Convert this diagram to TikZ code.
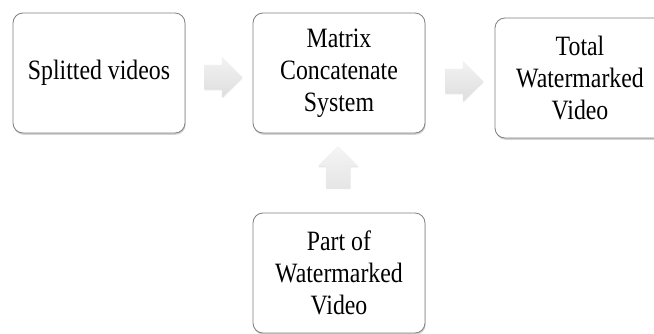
\documentclass[tikz,border=0pt]{standalone}
\usepackage{fontspec}
\setmainfont{Liberation Serif}[FakeStretch=0.85]
\usetikzlibrary{shapes.arrows, shadows}
\definecolor{boxLine}{RGB}{128,128,128}
\tikzstyle{stage} = [rectangle, rounded corners=10pt, draw=boxLine, line width=0.8pt,
fill=white, minimum width=172pt, minimum height=120pt, align=center,
font=\fontsize{28}{32}\selectfont,
drop shadow={shadow xshift=0.6pt, shadow yshift=-1.8pt, opacity=0.35}]
\tikzstyle{flow}  = [single arrow, single arrow head extend=8pt, draw=none,
top color=gray!10, bottom color=gray!26, minimum height=38pt,
inner xsep=0pt, inner ysep=12pt,
drop shadow={shadow xshift=0.5pt, shadow yshift=-1.2pt, opacity=0.2}]

\begin{document}
\begin{tikzpicture}[x=1pt, y=-1pt]
      \useasboundingbox (0,0) rectangle (654,334);
      \begin{scope}
      \clip (0,0) rectangle (654,334);
      \node(Sv)  [stage] at (99,73)  {Splitted videos};
      \node(Mcs) [stage] at (339,73) {Matrix\\Concatenate\\System};
      \node(Twv) [stage, minimum width=170pt] at (580,78) {Total\\Watermarked\\Video};
      \node(Pwv) [stage] at (339,273) {Part of\\Watermarked\\Video};
      \end{scope}

      \node(A1) [flow] at (217,77) {};
      \node(A2) [flow] at (458,81) {};
      \node(A3) [flow, shape border rotate=90, inner xsep=12pt, inner ysep=0pt,
                 minimum height=42pt, top color=gray!8, bottom color=gray!20]
                at (338,173) {};
    \end{tikzpicture}
\end{document}
